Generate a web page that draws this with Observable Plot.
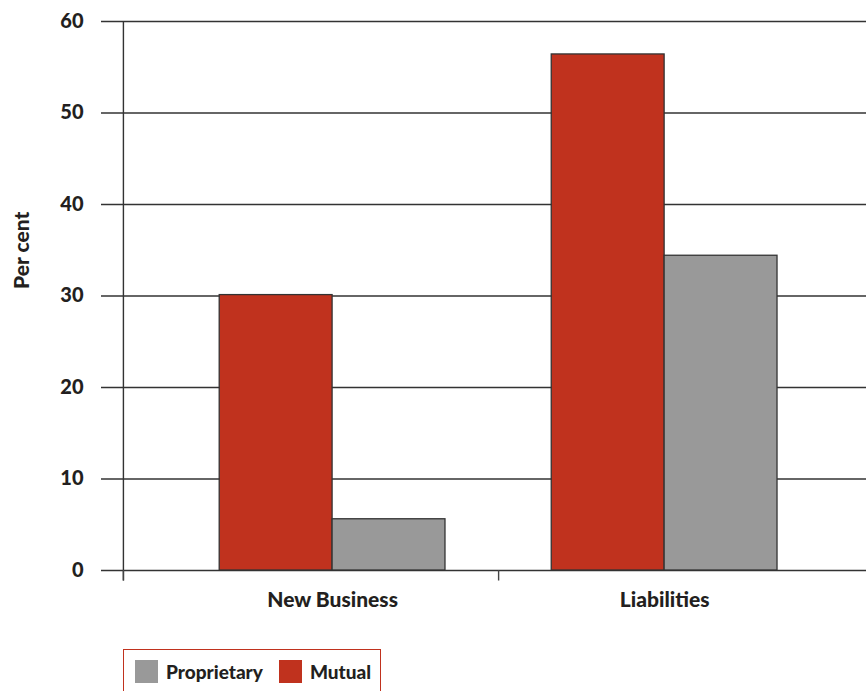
<!DOCTYPE html>
<html>
<head>
<meta charset="utf-8">
<script src="https://cdn.jsdelivr.net/npm/d3@7"></script>
<script src="https://cdn.jsdelivr.net/npm/@observablehq/plot@0.6"></script>
<style>
  body { margin: 0; background: #fff; font-family: Lato, "Open Sans", sans-serif; }
  #chart svg { display: block; }
  .legend {
    margin: 9px 0 0 123px;
    width: 258px;
    height: 44px;
    border: 1px solid #c0321e;
    box-sizing: border-box;
    display: flex;
    align-items: center;
    padding-left: 11px;
    font-weight: 900;
    font-size: 19px;
    color: #231f20;
  }
  .legend .sw { width: 23px; height: 23px; display: inline-block; margin-right: 8px; }
  .legend .item { display: flex; align-items: center; margin-right: 16px; }
</style>
</head>
<body>
<div id="chart"></div>
<div class="legend" id="legend"></div>
<script>
// Share of business by company type, per cent
const categories = ["New Business", "Liabilities"];
const seriesNames = ["Mutual", "Proprietary"];
const mutual = [30.1, 56.4];
const proprietary = [5.6, 34.4];
const yTicks = [0, 10, 20, 30, 40, 50, 60];
const colors = {Mutual: "#c0321e", Proprietary: "#999999"};

// each category sits at position 1, 2; bars of one group sit side by side
const barWidth = 0.34;
const rows = [];
categories.forEach((c, i) => {
  rows.push({category: c, series: "Mutual", value: mutual[i], x1: i + 1 - barWidth, x2: i + 1});
  rows.push({category: c, series: "Proprietary", value: proprietary[i], x1: i + 1, x2: i + 1 + barWidth});
});

const axisX = 0.37;              // position of the vertical axis line
const boundaries = [axisX, 1.5]; // group separators on the x axis

const chart = Plot.plot({
  width: 866,
  height: 640,
  marginTop: 21,
  marginBottom: 70,
  marginLeft: 101,
  marginRight: 0,
  style: {fontFamily: "Lato, 'Open Sans', sans-serif", color: "#231f20", background: "#fff"},
  x: {domain: [0.304, 2.608]},
  y: {domain: [0, 60]},
  marks: [
    Plot.ruleY(yTicks, {stroke: "#333", strokeWidth: 1.4}),
    Plot.rectY(rows, {x1: "x1", x2: "x2", y1: 0, y2: "value", fill: d => colors[d.series], stroke: "#333", strokeWidth: 1.3}),
    Plot.ruleX([axisX], {y1: -1.15, y2: 60, stroke: "#333", strokeWidth: 1.4}),
    Plot.ruleX(boundaries, {y1: 0, y2: -1.15, stroke: "#444", strokeWidth: 1.4}),
    Plot.axisY({ticks: yTicks, tickSize: 0, tickPadding: 18, fontSize: 20, fontWeight: 900, label: null}),
    Plot.text(["Per cent"], {frameAnchor: "left", textAnchor: "middle", y: [35], dx: -79, rotate: -90,
      fontSize: 21, fontWeight: 900, fill: "#231f20"}),
    Plot.axisX({ticks: [1, 2], tickFormat: d => categories[d - 1], tickSize: 0, tickPadding: 22,
      fontSize: 21, fontWeight: 900, label: null})
  ]
});
document.getElementById("chart").appendChild(chart);

// legend: Proprietary then Mutual
const legend = document.getElementById("legend");
["Proprietary", "Mutual"].forEach(name => {
  const item = document.createElement("span");
  item.className = "item";
  item.innerHTML = `<span class="sw" style="background:${colors[name]}"></span>${name}`;
  legend.appendChild(item);
});
</script>
</body>
</html>
